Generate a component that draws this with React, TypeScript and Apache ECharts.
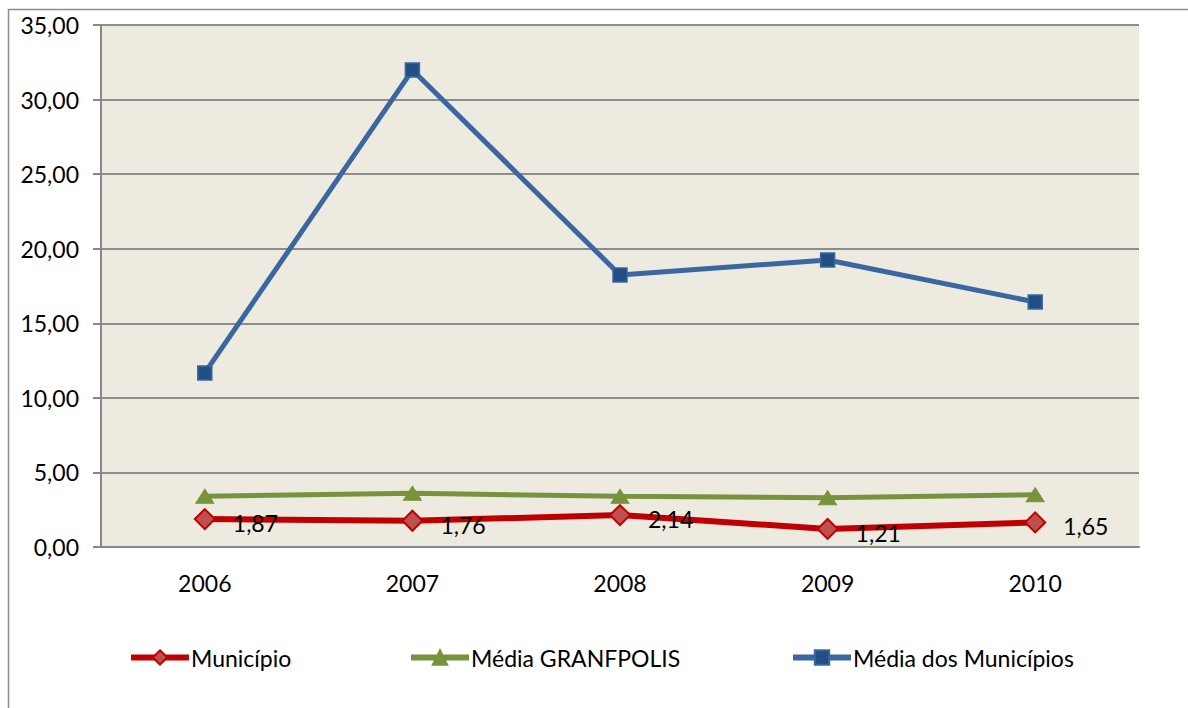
import React, { useEffect, useRef } from "react";
import * as echarts from "echarts";

const years = ["2006", "2007", "2008", "2009", "2010"];
const municipio = [1.87, 1.76, 2.14, 1.21, 1.65];
const mediaGranfpolis = [3.4, 3.6, 3.4, 3.3, 3.5];
const mediaMunicipios = [11.67, 31.98, 18.24, 19.24, 16.43];
const seriesNames = ["Município", "Média GRANFPOLIS", "Média dos Municípios"];
const legendLefts = [123, 403, 785];

const fmt = (v: number) => v.toFixed(2).replace(".", ",");
const FONT = "Lato";
const FS = 23;

export default function App() {
  const ref = useRef<HTMLDivElement>(null);
  useEffect(() => {
    document.body.style.margin = "0";
    const chart = echarts.init(ref.current!, null, { renderer: "svg" });
    chart.setOption({
      animation: false,
      backgroundColor: "#ffffff",
      textStyle: { fontFamily: FONT },
      graphic: [
        {
          type: "rect",
          shape: { x: 8.5, y: 9.5, width: 1200, height: 720 },
          style: { fill: "none", stroke: "#8c8c8c", lineWidth: 1.5 },
          silent: true,
        },
      ],
      grid: { left: 101, top: 25, width: 1038, height: 522, backgroundColor: "#EDEAE0", show: true, borderWidth: 0 },
      legend: seriesNames.map((n, i) => ({
        left: legendLefts[i],
        top: 641,
        itemWidth: 58,
        itemHeight: 18,
        lineStyle: { width: 6 },
        textStyle: { fontFamily: FONT, fontSize: FS, color: "#000", padding: [0, 0, 0, -3] },
        data: [n],
      })),
      xAxis: {
        type: "category",
        data: years,
        boundaryGap: true,
        axisLine: { lineStyle: { color: "#878787", width: 2 } },
        axisTick: { show: false },
        axisLabel: { fontFamily: FONT, fontSize: FS, color: "#000", margin: 24 },
      },
      yAxis: {
        type: "value",
        min: 0,
        max: 35,
        interval: 5,
        axisLine: { show: true, lineStyle: { color: "#878787", width: 2 } },
        axisTick: { show: true, length: 8, lineStyle: { color: "#878787", width: 2 } },
        splitLine: { lineStyle: { color: "#8c8c8c", width: 2 } },
        axisLabel: { fontFamily: FONT, fontSize: FS, color: "#000", margin: 22, formatter: (v: number) => fmt(v) },
      },
      series: [
        {
          name: seriesNames[0],
          type: "line",
          data: municipio,
          z: 4,
          lineStyle: { color: "#C00000", width: 6 },
          itemStyle: { color: "#C0504D", borderColor: "#C00000", borderWidth: 2 },
          symbol: "diamond",
          symbolSize: 20,
          label: {
            show: true,
            position: "right",
            offset: [12, 4],
            fontFamily: FONT,
            fontSize: FS,
            color: "#000",
            formatter: (p: any) => fmt(p.value),
          },
        },
        {
          name: seriesNames[1],
          type: "line",
          data: mediaGranfpolis,
          z: 3,
          lineStyle: { color: "#77933C", width: 5 },
          itemStyle: { color: "#77933C", borderColor: "#77933C", borderWidth: 1 },
          symbol: "triangle",
          symbolSize: [18, 14],
        },
        {
          name: seriesNames[2],
          type: "line",
          data: mediaMunicipios,
          z: 2,
          lineStyle: { color: "#3A67A0", width: 5 },
          itemStyle: { color: "#234E85", borderColor: "#3A67A0", borderWidth: 1.5 },
          symbol: "rect",
          symbolSize: 14,
        },
      ],
    });
    return () => chart.dispose();
  }, []);
  return <div ref={ref} style={{ width: 1188, height: 708 }} />;
}
